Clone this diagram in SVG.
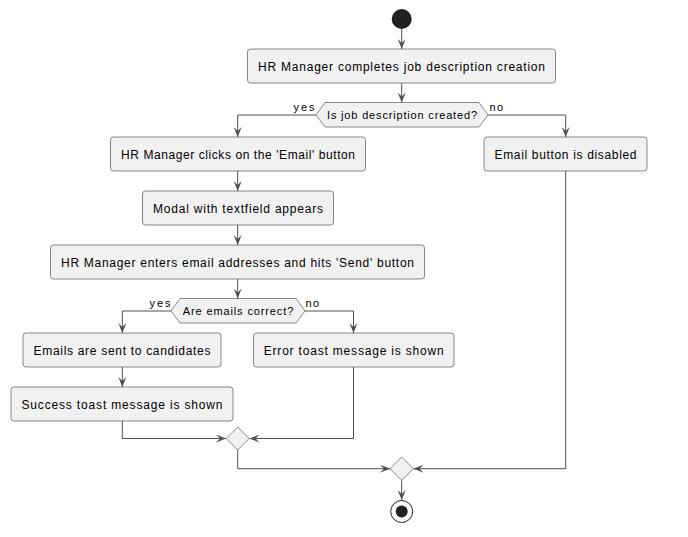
<svg xmlns="http://www.w3.org/2000/svg" width="688" height="537" viewBox="0 0 688 537">
<style>
.box{fill:#F1F1F1;stroke:#181818;stroke-width:0.5}
.t{font-family:"Liberation Sans",Arial,sans-serif;font-size:12px;fill:#000;text-anchor:middle}
.d{font-family:"Liberation Sans",Arial,sans-serif;font-size:11px;fill:#000;text-anchor:middle}
.lbl{font-family:"Liberation Sans",Arial,sans-serif;font-size:11px;fill:#000}
.ln{fill:none;stroke:#505050;stroke-width:1}
</style>
<defs>
<marker id="ah" viewBox="0 0 10 8" refX="10" refY="4" markerWidth="10" markerHeight="8" markerUnits="userSpaceOnUse" orient="auto">
<path d="M0,0 L10,4 L0,8 L4,4 Z" fill="#505050"/>
</marker>
</defs>
<rect width="688" height="537" fill="#fff"/>
<g id="connectors">
<path class="ln" d="M401.7,29 V49" marker-end="url(#ah)"/>
<path class="ln" d="M401.7,83 V102.5" marker-end="url(#ah)"/>
<path class="ln" d="M316,115 H237.7 V137" marker-end="url(#ah)"/>
<path class="ln" d="M488,115 H565.7 V137" marker-end="url(#ah)"/>
<path class="ln" d="M237.7,171 V191" marker-end="url(#ah)"/>
<path class="ln" d="M237.7,225 V245" marker-end="url(#ah)"/>
<path class="ln" d="M237.7,279 V298.5" marker-end="url(#ah)"/>
<path class="ln" d="M171,311 H122.3 V333" marker-end="url(#ah)"/>
<path class="ln" d="M305,311 H353.5 V333" marker-end="url(#ah)"/>
<path class="ln" d="M122.3,367 V387" marker-end="url(#ah)"/>
<path class="ln" d="M122.3,421 V438.5 H226" marker-end="url(#ah)"/>
<path class="ln" d="M353.5,367 V438.5 H249.5" marker-end="url(#ah)"/>
<path class="ln" d="M237.7,450 V468.7 H390" marker-end="url(#ah)"/>
<path class="ln" d="M565.7,171 V468.7 H413.5" marker-end="url(#ah)"/>
<path class="ln" d="M401.7,480.7 V500" marker-end="url(#ah)"/>
<text class="lbl" x="293.5" y="111" textLength="21" lengthAdjust="spacing">yes</text>
<text class="lbl" x="489.5" y="111" textLength="13.5" lengthAdjust="spacing">no</text>
<text class="lbl" x="149.5" y="307" textLength="21" lengthAdjust="spacing">yes</text>
<text class="lbl" x="305.5" y="307" textLength="13.5" lengthAdjust="spacing">no</text>
</g>
<g id="start"><circle cx="401.7" cy="19" r="10" fill="#222"/></g>
<g id="n1"><rect class="box" x="247.5" y="49" width="308" height="34" rx="3"/><text class="t" x="401.5" y="70.5" textLength="287" lengthAdjust="spacing">HR Manager completes job description creation</text></g>
<g id="d1"><polygon class="box" points="316,115 325,102.5 479,102.5 488,115 479,127 325,127"/><text class="d" x="402" y="118.5" textLength="150" lengthAdjust="spacing">Is job description created?</text></g>
<g id="n2"><rect class="box" x="110.5" y="137" width="255" height="34" rx="3"/><text class="t" x="238" y="158.5" textLength="234" lengthAdjust="spacing">HR Manager clicks on the 'Email' button</text></g>
<g id="n3"><rect class="box" x="484" y="137" width="163" height="34" rx="3"/><text class="t" x="565.5" y="158.5" textLength="142" lengthAdjust="spacing">Email button is disabled</text></g>
<g id="n4"><rect class="box" x="142.5" y="191" width="191" height="34" rx="3"/><text class="t" x="238" y="212.5" textLength="170" lengthAdjust="spacing">Modal with textfield appears</text></g>
<g id="n5"><rect class="box" x="50.5" y="245" width="374" height="34" rx="3"/><text class="t" x="237.5" y="266.5" textLength="353" lengthAdjust="spacing">HR Manager enters email addresses and hits 'Send' button</text></g>
<g id="d2"><polygon class="box" points="171,311 180,298.5 296,298.5 305,311 296,323 180,323"/><text class="d" x="238" y="314.5" textLength="110.5" lengthAdjust="spacing">Are emails correct?</text></g>
<g id="n6"><rect class="box" x="23" y="333" width="198" height="34" rx="3"/><text class="t" x="122" y="354.5" textLength="177" lengthAdjust="spacing">Emails are sent to candidates</text></g>
<g id="n7"><rect class="box" x="253.5" y="333" width="200.5" height="34" rx="3"/><text class="t" x="353.7" y="354.5" textLength="180" lengthAdjust="spacing">Error toast message is shown</text></g>
<g id="n8"><rect class="box" x="11" y="387" width="222" height="34" rx="3"/><text class="t" x="122" y="408.5" textLength="201" lengthAdjust="spacing">Success toast message is shown</text></g>
<g id="m1"><polygon class="box" points="237.7,427 249.2,438.5 237.7,450 226.2,438.5"/></g>
<g id="m2"><polygon class="box" points="401.7,457 413.4,468.7 401.7,480.4 390,468.7"/></g>
<g id="end"><circle cx="401.7" cy="511.5" r="11" fill="#fff" stroke="#222" stroke-width="1"/><circle cx="401.7" cy="511.5" r="6" fill="#222"/></g>
</svg>
